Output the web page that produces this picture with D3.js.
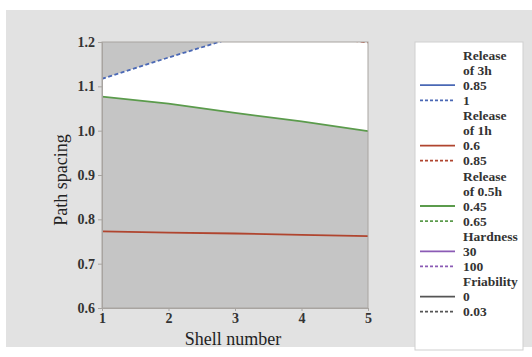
<!DOCTYPE html>
<html><head><meta charset="utf-8">
<script src="https://cdn.jsdelivr.net/npm/d3@7"></script>
<style>body{margin:0;background:#fff}svg{display:block}</style>
</head><body>
<script>
const shells = [1, 2, 3, 4, 5];
const release3hHigh = [1.117, 1.165, 1.211, 1.255, 1.298];   // dashed blue (1)
const release1hLow = [0.773, 0.770, 0.768, 0.765, 0.762];    // solid red (0.6)
const release1hHigh = [1.26, 1.245, 1.23, 1.215, 1.199];     // dashed red (0.85)
const release05hLow = [1.077, 1.061, 1.040, 1.021, 0.999];   // solid green (0.45)
const yTicks = [0.6, 0.7, 0.8, 0.9, 1.0, 1.1, 1.2];
const xTicks = [1, 2, 3, 4, 5];
const legendGroups = [
  {title: ["Release", "of 3h"], color: "#4a68b5", items: ["0.85", "1"]},
  {title: ["Release", "of 1h"], color: "#b0452f", items: ["0.6", "0.85"]},
  {title: ["Release", "of 0.5h"], color: "#5b9b4c", items: ["0.45", "0.65"]},
  {title: ["Hardness"], color: "#8b5bb5", items: ["30", "100"]},
  {title: ["Friability"], color: "#555555", items: ["0", "0.03"]}
];

const W = 532, H = 357;
const svg = d3.select("body").append("svg").attr("width", W).attr("height", H);
const font = "'Liberation Serif', serif";

function boldText(sel, size) {
  sel.style("font-family", font).style("font-size", size + "px").style("font-weight", "bold").attr("fill", "#333");
}

svg.append("rect").attr("x", 6).attr("y", 10).attr("width", W - 6).attr("height", 337).attr("fill", "#e2e2e2");

const L = 102, R = 368, T = 42, B = 308;
const x = d3.scaleLinear().domain([1, 5]).range([L, R]);
const y = d3.scaleLinear().domain([0.6, 1.2]).range([B, T]);

svg.append("defs").append("clipPath").attr("id", "clip")
  .append("rect").attr("x", L).attr("y", T).attr("width", R - L).attr("height", B - T);

svg.append("rect").attr("x", L).attr("y", T).attr("width", R - L).attr("height", B - T).attr("fill", "#c5c5c5");

const g = svg.append("g").attr("clip-path", "url(#clip)");
const pts = shells.map((s, i) => ({s, lo: release05hLow[i], hi: release3hHigh[i]}));
g.append("path").datum(pts)
  .attr("d", d3.area().x(d => x(d.s)).y0(d => y(d.lo)).y1(d => y(d.hi)))
  .attr("fill", "#ffffff");

const line = d3.line().x((d, i) => x(shells[i])).y(d => y(d));
g.append("path").datum(release05hLow).attr("d", line).attr("fill", "none").attr("stroke", "#5b9b4c").attr("stroke-width", 1.8);
g.append("path").datum(release1hLow).attr("d", line).attr("fill", "none").attr("stroke", "#b0452f").attr("stroke-width", 1.8);
g.append("path").datum(release3hHigh).attr("d", line).attr("fill", "none").attr("stroke", "#4a68b5").attr("stroke-width", 1.8).attr("stroke-dasharray", "4,2.5");
g.append("path").datum(release1hHigh).attr("d", line).attr("fill", "none").attr("stroke", "#b0452f").attr("stroke-width", 1.8).attr("stroke-dasharray", "4,2.5");

svg.append("rect").attr("x", L).attr("y", T).attr("width", R - L).attr("height", B - T)
  .attr("fill", "none").attr("stroke", "#a8a4a0").attr("stroke-width", 1);

const ya = svg.append("g").attr("transform", `translate(${L},0)`)
  .call(d3.axisLeft(y).tickValues(yTicks).tickFormat(d3.format(".1f")).tickSize(4).tickPadding(3));
const xa = svg.append("g").attr("transform", `translate(0,${B})`)
  .call(d3.axisBottom(x).tickValues(xTicks).tickFormat(d3.format("d")).tickSize(3).tickPadding(2));
[ya, xa].forEach(a => {
  a.attr("font-family", null).attr("font-size", null);
  a.select(".domain").attr("stroke", "#a8a4a0");
  a.selectAll(".tick line").attr("stroke", "#a8a4a0");
  boldText(a.selectAll("text"), 14);
});

svg.append("text").attr("x", 233).attr("y", 345).attr("text-anchor", "middle")
  .style("font-family", font).style("font-size", "18px").attr("fill", "#222").text("Shell number");
svg.append("text").attr("transform", "translate(67,180) rotate(-90)").attr("text-anchor", "middle")
  .style("font-family", font).style("font-size", "18px").attr("fill", "#222").text("Path spacing");

// legend
svg.append("rect").attr("x", 415).attr("y", 42).attr("width", 108).attr("height", 308)
  .attr("fill", "#fff").attr("stroke", "#cfcfcf");
let row = 0;
const rowH = 15.1, y0 = 55, tx = 463;
legendGroups.forEach(gr => {
  gr.title.forEach(t => {
    boldText(svg.append("text").attr("x", tx).attr("y", y0 + row * rowH).attr("dy", "0.35em").text(t), 13.5);
    row++;
  });
  gr.items.forEach((t, k) => {
    const yy = y0 + row * rowH;
    svg.append("line").attr("x1", 420).attr("x2", 455).attr("y1", yy).attr("y2", yy)
      .attr("stroke", gr.color).attr("stroke-width", 1.8).attr("stroke-dasharray", k === 1 ? "3,2" : null);
    boldText(svg.append("text").attr("x", tx).attr("y", yy).attr("dy", "0.35em").text(t), 13.5);
    row++;
  });
});
</script>
</body></html>
